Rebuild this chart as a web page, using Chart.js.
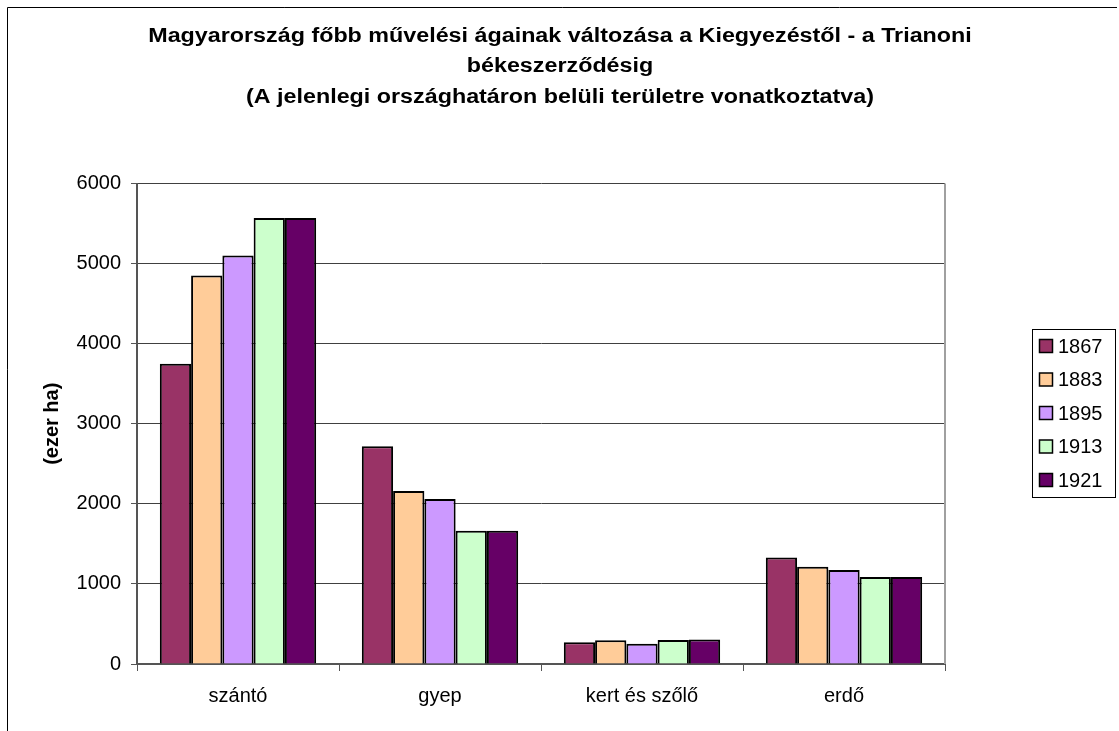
<!DOCTYPE html>
<html>
<head>
<meta charset="utf-8">
<script src="https://cdn.jsdelivr.net/npm/chart.js@4.4.1/dist/chart.umd.min.js"></script>
<style>
html,body{margin:0;padding:0;background:#fff;}
#wrap{width:1119px;height:731px;position:relative;}
</style>
</head>
<body>
<div id="wrap"><canvas id="c" width="1119" height="731"></canvas></div>
<script>
const categories = ['szántó', 'gyep', 'kert és szőlő', 'erdő'];
const years = ['1867', '1883', '1895', '1913', '1921'];
const v1867 = [3750, 2720, 272, 1331];
const v1883 = [4850, 2160, 297, 1215];
const v1895 = [5100, 2060, 252, 1173];
const v1913 = [5570, 1665, 300, 1085];
const v1921 = [5570, 1665, 306, 1085];
const yTicks = [0, 1000, 2000, 3000, 4000, 5000, 6000];
const colors = ['#993366', '#FFCC99', '#CC99FF', '#CCFFCC', '#660066'];
const titleLines = [
  'Magyarország főbb művelési ágainak változása a Kiegyezéstől - a Trianoni',
  'békeszerződésig',
  '(A jelenlegi országhatáron belüli területre vonatkoztatva)'
];
const yTitle = '(ezer ha)';

const FONT = '"Liberation Sans", Arial, sans-serif';
const series = [v1867, v1883, v1895, v1913, v1921];

const decor = {
  id: 'decor',
  afterDraw(chart) {
    const ctx = chart.ctx;
    const a = chart.chartArea;
    ctx.save();
    // outer border (left & top)
    ctx.strokeStyle = '#000';
    ctx.lineWidth = 1;
    ctx.beginPath();
    ctx.moveTo(7.5, 731);
    ctx.lineTo(7.5, 7.5);
    ctx.lineTo(1117, 7.5);
    ctx.stroke();
    // plot right border
    ctx.strokeStyle = '#a0a0a0';
    ctx.lineWidth = 2;
    ctx.beginPath();
    ctx.moveTo(a.right, a.top);
    ctx.lineTo(a.right, a.bottom);
    ctx.stroke();
    // title
    ctx.fillStyle = '#000';
    ctx.font = 'bold 20px ' + FONT;
    ctx.textBaseline = 'middle';
    ctx.textAlign = 'center';
    const sx = 1.165;
    titleLines.forEach((t, i) => {
      ctx.save();
      ctx.translate(560, 36 + i * 30.5);
      ctx.scale(sx, 1);
      ctx.fillText(t, 0, 0);
      ctx.restore();
    });
    // legend
    const lx = 1032, ly = 329, lw = 83, lh = 168;
    ctx.strokeStyle = '#000';
    ctx.lineWidth = 1;
    ctx.strokeRect(lx + 0.5, ly + 0.5, lw, lh);
    ctx.font = '20px ' + FONT;
    ctx.textBaseline = 'middle';
    ctx.textAlign = 'left';
    chart.data.datasets.forEach((ds, i) => {
      const cy = 346 + i * 33.5;
      ctx.fillStyle = ds.backgroundColor;
      ctx.fillRect(1039.5, cy - 6.5, 13, 13);
      ctx.lineWidth = 1.5;
      ctx.strokeStyle = '#000';
      ctx.strokeRect(1039.5, cy - 6.5, 13, 13);
      ctx.fillStyle = '#000';
      ctx.fillText(ds.label, 1058, cy + 1);
    });
    ctx.restore();
  }
};

new Chart(document.getElementById('c'), {
  type: 'bar',
  data: {
    labels: categories,
    datasets: years.map((y, i) => ({
      label: y,
      data: series[i],
      backgroundColor: colors[i],
      borderColor: '#000',
      borderWidth: 2,
      barPercentage: 1.0,
      categoryPercentage: 0.774
    }))
  },
  options: {
    responsive: false,
    animation: false,
    devicePixelRatio: 1,
    layout: { padding: { top: 183.5, right: 174, bottom: 0, left: 0 } },
    plugins: {
      legend: { display: false },
      tooltip: { enabled: false },
      title: { display: false }
    },
    scales: {
      x: {
        afterFit(scale) { scale.height = 67; },
        grid: { display: true, drawOnChartArea: false, drawTicks: true, tickLength: 7, color: '#555', offset: true },
        border: { display: true, color: '#555', width: 2 },
        ticks: { color: '#000', padding: 13, font: { family: FONT, size: 20 }, maxRotation: 0 }
      },
      y: {
        min: 0, max: 6000,
        afterFit(scale) { scale.width = 137; },
        afterBuildTicks(scale) { scale.ticks = yTicks.map(v => ({ value: v })); },
        grid: { color: '#404040', lineWidth: 1, tickLength: 6, tickColor: '#555' },
        border: { display: true, color: '#555', width: 2 },
        ticks: { color: '#000', padding: 10, font: { family: FONT, size: 20 }, callback: v => String(v) },
        title: {
          display: true,
          text: yTitle,
          color: '#000',
          font: { family: FONT, size: 20, weight: 'bold', lineHeight: 1.2 },
          padding: { top: 40, bottom: 0 }
        }
      }
    }
  },
  plugins: [decor]
});
</script>
</body>
</html>
